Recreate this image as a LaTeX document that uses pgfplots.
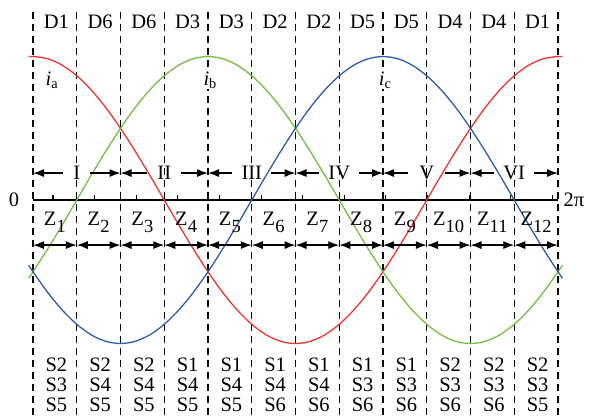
\documentclass[border=0pt]{standalone}
\usepackage{pgfplots}
\pgfplotsset{compat=1.18}
\usepackage{pgfplotstable}
\usepackage{fontspec}
\setmainfont{Liberation Serif}
\usetikzlibrary{arrows.meta}

\definecolor{phA}{HTML}{EE3333}
\definecolor{phB}{HTML}{72BF44}
\definecolor{phC}{HTML}{2B5DAE}

% phase currents over one period (angle in degrees)
\pgfplotstableread{
th   ia      ib      ic
-3   0.999  -0.545  -0.454
0    1.000  -0.500  -0.500
10   0.985  -0.342  -0.643
20   0.940  -0.174  -0.766
30   0.866   0.000  -0.866
40   0.766   0.174  -0.940
50   0.643   0.342  -0.985
60   0.500   0.500  -1.000
70   0.342   0.643  -0.985
80   0.174   0.766  -0.940
90   0.000   0.866  -0.866
100 -0.174   0.940  -0.766
110 -0.342   0.985  -0.643
120 -0.500   1.000  -0.500
130 -0.643   0.985  -0.342
140 -0.766   0.940  -0.174
150 -0.866   0.866   0.000
160 -0.940   0.766   0.174
170 -0.985   0.643   0.342
180 -1.000   0.500   0.500
190 -0.985   0.342   0.643
200 -0.940   0.174   0.766
210 -0.866   0.000   0.866
220 -0.766  -0.174   0.940
230 -0.643  -0.342   0.985
240 -0.500  -0.500   1.000
250 -0.342  -0.643   0.985
260 -0.174  -0.766   0.940
270  0.000  -0.866   0.866
280  0.174  -0.940   0.766
290  0.342  -0.985   0.643
300  0.500  -1.000   0.500
310  0.643  -0.985   0.342
320  0.766  -0.940   0.174
330  0.866  -0.866   0.000
340  0.940  -0.766  -0.174
350  0.985  -0.643  -0.342
360  1.000  -0.500  -0.500
363  0.999  -0.454  -0.545
}\currents

\tikzset{
  lbl/.style={font=\fontsize{20.5}{20.5}\selectfont, inner sep=0pt},
  slbl/.style={font=\fontsize{20.5}{20}\selectfont, inner sep=0pt, align=center},
  sector/.style={black, line width=1.2pt, dash pattern=on 7pt off 5pt},
  tip/.tip={Latex[length=11pt,width=8pt]},
  arr/.style={-tip, line width=1.2pt},
  darr/.style={tip-tip, line width=1.2pt},
}
\newcommand\zl[1]{Z\raisebox{-7pt}{\fontsize{18.5}{18.5}\selectfont #1}}
\newcommand\slist[3]{S#1\\S#2\\S#3}

\begin{document}
\begin{tikzpicture}
\begin{axis}[
  scale only axis, width=589pt, height=415pt,
  xmin=-22.63, xmax=381.26, ymin=-1.498, ymax=1.394,
  hide axis, clip=false]
\coordinate (bbsw) at (axis cs:-22.63,-1.498);
\coordinate (bbne) at (axis cs:381.26,1.394);

% sector boundaries every 30 degrees
\pgfplotsinvokeforeach{0,30,60,90,120,150,180,210,240,270,300,330,360}{
  \draw[sector] (axis cs:#1,1.310) -- (axis cs:#1,-1.498);
}

% horizontal axis with small ticks
\draw[black, line width=1.2pt] (axis cs:0,0) -- (axis cs:360,0);
\addplot[black, line width=1.1pt, ycomb, no marks] coordinates {
  (13.7,0.035) (42.2,0.035) (70.8,0.035) (99.3,0.035) (127.9,0.035)
  (156.4,0.035) (185.0,0.035) (213.5,0.035) (242.0,0.035) (270.6,0.035)
  (299.1,0.035) (327.7,0.035) (356.2,0.035)};
\node[lbl] at (axis cs:-13,0) {0};
\node[lbl] at (axis cs:371,0) {2π};

% phase currents
\addplot[phA, line width=1.3pt, smooth] table[x=th, y=ia] {\currents};
\addplot[phB, line width=1.3pt, smooth] table[x=th, y=ib] {\currents};
\addplot[phC, line width=1.3pt, smooth] table[x=th, y=ic] {\currents};

\node[lbl] at (axis cs:13,0.836) {\textit{i}\textsubscript{a}};
\node[lbl, fill=white, inner sep=1pt] at (axis cs:121.5,0.836) {\textit{i}\textsubscript{b}};
\node[lbl, fill=white, inner sep=1pt] at (axis cs:241.5,0.836) {\textit{i}\textsubscript{c}};

% conducting diodes
\node[lbl] at (axis cs:16,1.240)  {D1};
\node[lbl] at (axis cs:46,1.240)  {D6};
\node[lbl] at (axis cs:76,1.240)  {D6};
\node[lbl] at (axis cs:106,1.240) {D3};
\node[lbl] at (axis cs:136,1.240) {D3};
\node[lbl] at (axis cs:166,1.240) {D2};
\node[lbl] at (axis cs:196,1.240) {D2};
\node[lbl] at (axis cs:226,1.240) {D5};
\node[lbl] at (axis cs:256,1.240) {D5};
\node[lbl] at (axis cs:286,1.240) {D4};
\node[lbl] at (axis cs:316,1.240) {D4};
\node[lbl] at (axis cs:346,1.240) {D1};

% sectors I..VI
\node[lbl, inner xsep=10pt] (r1) at (axis cs:30,0.188)  {I};
\node[lbl, inner xsep=10pt] (r2) at (axis cs:90,0.188)  {II};
\node[lbl, inner xsep=9pt]  (r3) at (axis cs:150,0.188) {III};
\node[lbl, inner xsep=9pt]  (r4) at (axis cs:210,0.188) {IV};
\node[lbl, inner xsep=11pt] (r5) at (axis cs:270,0.188) {V};
\node[lbl, inner xsep=9pt]  (r6) at (axis cs:330,0.188) {VI};
\draw[arr] (r1.west) -- (axis cs:0,0.188);
\draw[arr] (r1.east) -- (axis cs:60,0.188);
\draw[arr] (r2.west) -- (axis cs:60,0.188);
\draw[arr] (r2.east) -- (axis cs:120,0.188);
\draw[arr] (r3.west) -- (axis cs:120,0.188);
\draw[arr] (r3.east) -- (axis cs:180,0.188);
\draw[arr] (r4.west) -- (axis cs:180,0.188);
\draw[arr] (r4.east) -- (axis cs:240,0.188);
\draw[arr] (r5.west) -- (axis cs:240,0.188);
\draw[arr] (r5.east) -- (axis cs:300,0.188);
\draw[arr] (r6.west) -- (axis cs:300,0.188);
\draw[arr] (r6.east) -- (axis cs:360,0.188);

% sub-sectors Z1..Z12
\pgfplotsinvokeforeach{0,30,60,90,120,150,180,210,240,270,300,330}{
  \draw[darr] (axis cs:#1,-0.314) -- (axis cs:#1+30,-0.314);
}
\node[lbl] at (axis cs:15,-0.153)  {\zl{1}};
\node[lbl] at (axis cs:45,-0.153)  {\zl{2}};
\node[lbl] at (axis cs:75,-0.153)  {\zl{3}};
\node[lbl] at (axis cs:105,-0.153) {\zl{4}};
\node[lbl] at (axis cs:135,-0.153) {\zl{5}};
\node[lbl] at (axis cs:165,-0.153) {\zl{6}};
\node[lbl] at (axis cs:195,-0.153) {\zl{7}};
\node[lbl] at (axis cs:225,-0.153) {\zl{8}};
\node[lbl] at (axis cs:255,-0.153) {\zl{9}};
\node[lbl] at (axis cs:285,-0.153) {\zl{10}};
\node[lbl] at (axis cs:315,-0.153) {\zl{11}};
\node[lbl] at (axis cs:345,-0.153) {\zl{12}};

% switching states
\node[slbl] at (axis cs:16,-1.289)  {\slist{2}{3}{5}};
\node[slbl] at (axis cs:46,-1.289)  {\slist{2}{4}{5}};
\node[slbl] at (axis cs:76,-1.289)  {\slist{2}{4}{5}};
\node[slbl] at (axis cs:106,-1.289) {\slist{1}{4}{5}};
\node[slbl] at (axis cs:136,-1.289) {\slist{1}{4}{5}};
\node[slbl] at (axis cs:166,-1.289) {\slist{1}{4}{6}};
\node[slbl] at (axis cs:196,-1.289) {\slist{1}{4}{6}};
\node[slbl] at (axis cs:226,-1.289) {\slist{1}{3}{6}};
\node[slbl] at (axis cs:256,-1.289) {\slist{1}{3}{6}};
\node[slbl] at (axis cs:286,-1.289) {\slist{2}{3}{6}};
\node[slbl] at (axis cs:316,-1.289) {\slist{2}{3}{6}};
\node[slbl] at (axis cs:346,-1.289) {\slist{2}{3}{5}};
\end{axis}
\pgfresetboundingbox
\path[use as bounding box] (bbsw) rectangle (bbne);
\end{tikzpicture}
\end{document}
